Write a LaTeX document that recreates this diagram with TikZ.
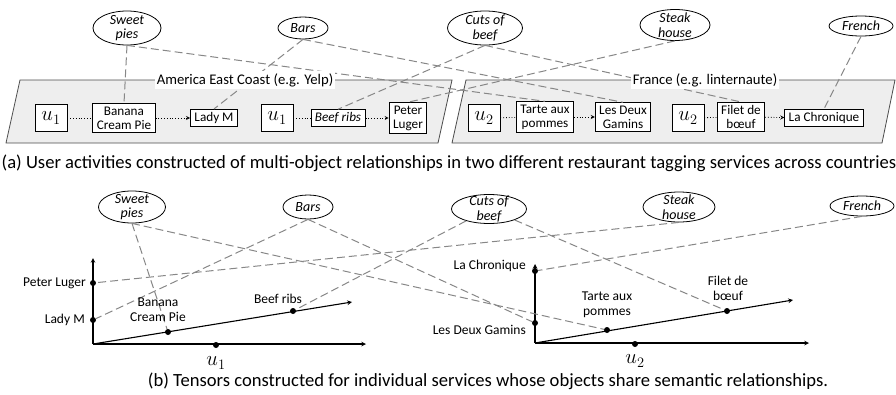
\documentclass[tikz,border=0pt]{standalone}
\usepackage{fontspec}
\setmainfont{Carlito}
\usetikzlibrary{shapes,arrows}
\usetikzlibrary{positioning}
\usetikzlibrary{calc}
\definecolor{linkgray}{RGB}{135,135,135}
\definecolor{panelgray}{RGB}{238,238,238}
\tikzstyle{tag}=[ellipse,draw,thick,inner xsep=0pt,inner ysep=-3pt,align=center,font=\fontsize{14}{14.5}\selectfont\itshape]
\tikzstyle{item}=[rectangle,draw,thick,fill=white,inner xsep=4pt,inner ysep=3pt,align=center,font=\fontsize{13.2}{14}\selectfont]
\tikzstyle{user}=[rectangle,draw,thick,fill=white,minimum width=32pt,minimum height=27pt,inner sep=0pt,font=\fontsize{20}{20}\selectfont]
\tikzstyle{link}=[draw,linkgray,line width=1pt,dash pattern=on 8pt off 4pt]
\tikzstyle{act}=[draw,thick,dotted]
\tikzstyle{actnext}=[draw,thick,dotted,->,>=stealth]
\tikzstyle{panel}=[draw=black!70,fill=panelgray,line width=0.8pt]
\tikzstyle{panellabel}=[fill=white,inner sep=2pt,font=\fontsize{14.7}{16}\selectfont]
\tikzstyle{axis}=[draw,line width=1.1pt,->,>=stealth]
\tikzstyle{dot}=[circle,fill=black,inner sep=0pt,minimum size=6pt]
\tikzstyle{lbl}=[align=center,inner sep=1pt,font=\fontsize{13.5}{15}\selectfont]
\tikzstyle{caption}=[inner sep=0pt,font=\fontsize{18.6}{20}\selectfont]

\begin{document}
\begin{tikzpicture}[x=1pt,y=-1pt]
    \useasboundingbox (0,0) rectangle (896,394);

    % (a) the two services
    \filldraw[panel] (20,80) -- (452,80) -- (438,143) -- (6,143) -- cycle;
    \filldraw[panel] (466,80) -- (895,80) -- (882,143) -- (452,143) -- cycle;

    \foreach \pos/\name/\text/\w/\h in {{(127,28)/sweetA/Sweet\\pies/68/34}, {(303,28)/barsA/Bars/50/22}, {(485,28)/cutsA/Cuts of\\beef/75/34}, {(675,25)/steakA/Steak\\house/70/31}, {(861,26)/frenchA/French/64/20}}
        \node[tag,minimum width=\w pt,minimum height=\h pt] (\name) at \pos {\text};

    \foreach \pos/\name/\text in {{(51,118)/uA1/$u_1$}, {(277,118)/uA2/$u_1$}, {(484,118)/uB1/$u_2$}, {(688,118)/uB2/$u_2$}}
        \node[user] (\name) at \pos {\text};

    \foreach \pos/\name/\text in {{(124,118)/banana/Banana\\Cream Pie}, {(214,118)/ladyM/Lady M}, {(338,118)/ribs/\textit{Beef ribs}}, {(408,118)/luger/Peter\\Luger}, {(545,117)/tarte/Tarte aux\\pommes}, {(623,117)/gamins/Les Deux\\Gamins}, {(741,117)/filet/Filet de\\bœuf}, {(824,118)/chron/La Chronique}}
        \node[item] (\name) at \pos {\text};

    \foreach \source/\dest in {sweetA/banana, sweetA/tarte, barsA/ladyM, barsA/gamins, cutsA/ribs, cutsA/filet, steakA/luger, frenchA/chron}
        \path[link] (\source.south) -- (\dest.north);

    \node[panellabel] (yelp) at (245,80) {America East Coast (e.g. Yelp)};
    \node[panellabel] (linter) at (705,80) {France (e.g. linternaute)};

    \foreach \source/\dest in {uA1/banana, uA2/ribs, uB1/tarte, uB2/filet}
        \path[act] (\source) -- (\dest);
    \foreach \source/\dest in {banana/ladyM, ribs/luger, tarte/gamins, filet/chron}
        \path[actnext] (\source) -- (\dest);

    \node[caption] (capA) at (449,163) {(a) User activities constructed of multi-object relationships in two different restaurant tagging services across countries};

    % (b) the tensors
    \foreach \pos/\name/\text/\w/\h in {{(132,207)/sweetB/Sweet\\pies/67/32}, {(308,207)/barsB/Bars/50/24}, {(489,209)/cutsB/Cuts of\\beef/75/29}, {(679,207)/steakB/Steak\\house/72/30}, {(862,206)/frenchB/French/64/20}}
        \node[tag,minimum width=\w pt,minimum height=\h pt] (\name) at \pos {\text};

    \coordinate (o1) at (93,344);
    \coordinate (y1) at (93,258);
    \coordinate (x1) at (366,344);
    \coordinate (d1) at (352,302);
    \coordinate (o2) at (535,343);
    \coordinate (y2) at (535,264);
    \coordinate (x2) at (809,343);
    \coordinate (d2) at (793,300);
    \foreach \source/\dest in {o1/y1, o1/x1, o1/d1, o2/y2, o2/x2, o2/d2}
        \path[axis] (\source) -- (\dest);

    \foreach \pos/\name in {{(93,283)/lugerDot}, {(93,320)/ladyDot}, {(168,332)/bananaDot}, {(293,311)/ribsDot}, {(216,345)/uDot1}, {(535,271)/chronDot}, {(535,323)/gaminsDot}, {(607,330)/tarteDot}, {(727,311)/filetDot}, {(635,344)/uDot2}}
        \node[dot] (\name) at \pos {};

    \foreach \source/\dest in {sweetB.south/bananaDot, sweetB.south/tarteDot, barsB.south/ladyDot, barsB.south/gaminsDot, cutsB/ribsDot, cutsB/filetDot, steakB.south/lugerDot, frenchB.south/chronDot}
        \path[link] (\source) -- (\dest);

    \node[lbl,anchor=east] (lugerLbl) at (87,283) {Peter Luger};
    \node[lbl,anchor=east] (ladyLbl) at (86,320) {Lady M};
    \node[lbl] (bananaLbl) at (158,310) {Banana\\Cream Pie};
    \node[lbl] (ribsLbl) at (278,299) {Beef ribs};
    \node[lbl,anchor=east] (chronLbl) at (527,266) {La Chronique};
    \node[lbl,anchor=east] (gaminsLbl) at (527,330) {Les Deux Gamins};
    \node[lbl] (tarteLbl) at (607,305) {Tarte aux\\pommes};
    \node[lbl] (filetLbl) at (728,288) {Filet de\\bœuf};
    \node[user,draw=none,fill=none] (uLbl1) at (216,363) {$u_1$};
    \node[user,draw=none,fill=none] (uLbl2) at (635,361) {$u_2$};

    \node[caption] (capB) at (488,381) {(b) Tensors constructed for individual services whose objects share semantic relationships.};
\end{tikzpicture}
\end{document}
